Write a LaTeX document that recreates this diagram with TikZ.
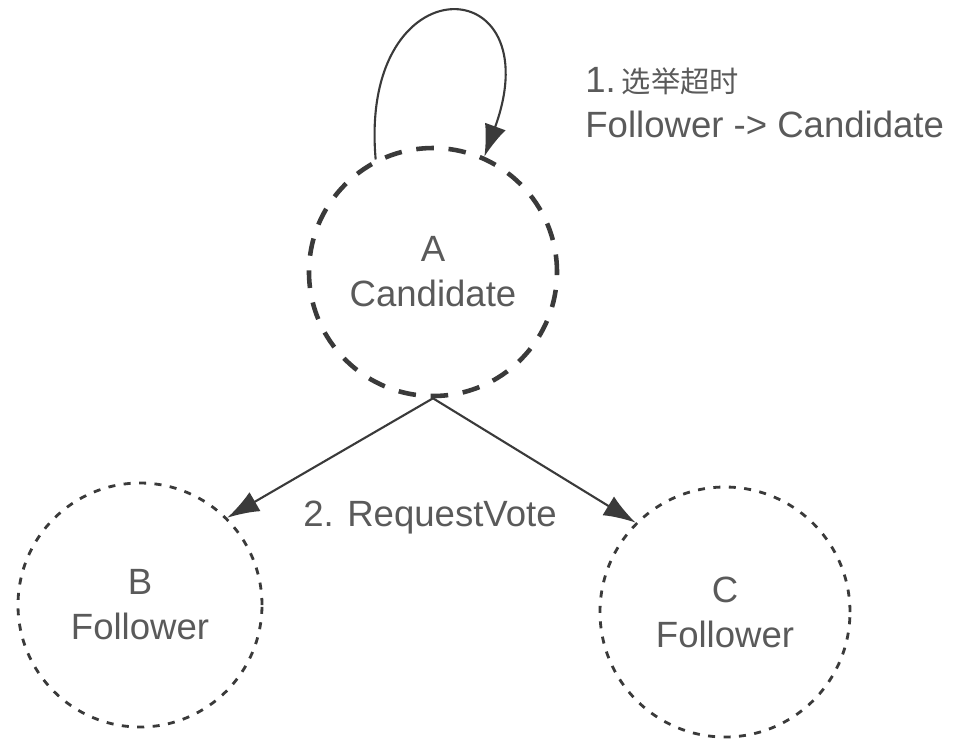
\documentclass[tikz,border=0pt]{standalone}
\usepackage{fontspec}
\setmainfont{Liberation Sans}
\newfontfamily\cjk[Scale=0.8]{Noto Sans CJK SC}
\usepackage{tikz}
\usetikzlibrary{arrows.meta}

\definecolor{linegray}{HTML}{3A3A3A}
\definecolor{textgray}{HTML}{5A5A5A}

\tikzset{
  server/.style={circle, draw=linegray, align=center, text=textgray,
    font=\fontsize{10.4}{12.8}\selectfont, inner sep=0pt},
  candidate/.style={server, line width=1.3pt, dash pattern=on 5pt off 4.2pt},
  follower/.style={server, line width=0.8pt, dash pattern=on 2pt off 2.4pt},
  msg/.style={draw=linegray, line width=0.6pt, -{Latex[length=3.2mm,width=2.2mm]}},
  note/.style={text=textgray, font=\fontsize{10.4}{12.8}\selectfont}
}

\begin{document}
\begin{tikzpicture}
          \useasboundingbox (0,0) rectangle (9.6,-7.52);
          \node[candidate, minimum size=2.48cm] (A) at (4.33,-2.72) {A\\Candidate};
          \node[follower, minimum size=2.44cm] (B) at (1.40,-6.05) {B\\Follower};
          \node[follower, minimum size=2.50cm] (C) at (7.25,-6.12) {C\\Follower};
          \node[note, anchor=west, align=left] (timeout) at (5.73,-1.03) {1.\,{\cjk 选举超时}\\Follower -> Candidate};
          \node[note] (vote) at (4.30,-5.18) {2. RequestVote};
          \draw[msg] (A.117) .. controls +(95:2.0) and +(70:2.0) .. (A.66);
          \draw[msg] (A.south) -- (B.45);
          \draw[msg] (A.south) -- (C.135);
        \end{tikzpicture}
\end{document}
